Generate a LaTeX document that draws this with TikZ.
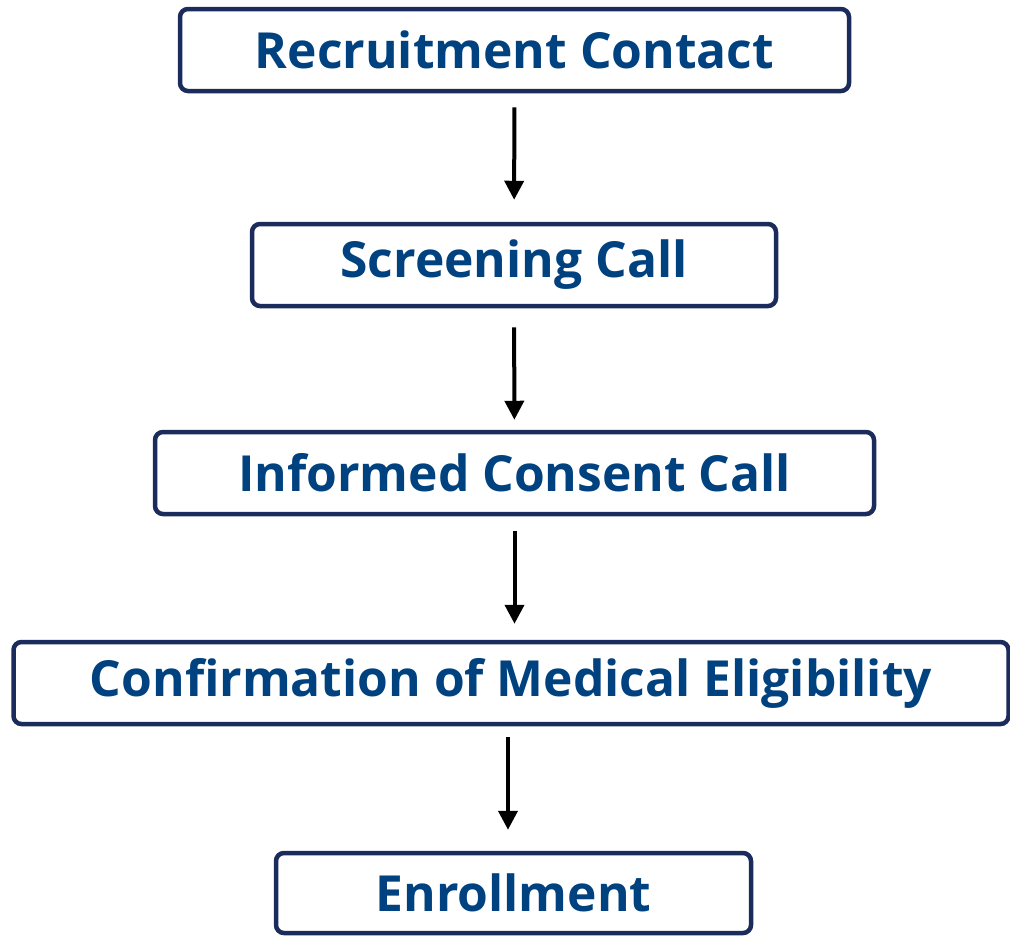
\documentclass[tikz,border=0pt]{standalone}
\usepackage{fontspec}
\setmainfont{Open Sans}
\usepackage{tikz}
\usepackage{xcolor}
\usetikzlibrary{positioning,arrows.meta}
\definecolor{stepblue}{HTML}{00417F}
\definecolor{framenavy}{HTML}{1B2C5C}

\begin{document}
\begin{tikzpicture}[scale=1.0,
    stage/.style={rectangle, rounded corners=0.16cm, draw=framenavy, line width=0.09cm,
      fill=white, inner sep=0pt, minimum height=1.64cm,
      font=\fontsize{28.3}{31}\selectfont\bfseries, text=stepblue},
    flow/.style={-{Triangle[length=0.38cm, width=0.38cm]}, line width=0.08cm}]
      %\draw [dotted] (0,-19) grid (21,0);
      \useasboundingbox (0,0) rectangle (20.2,-18.72);
      \node [stage, minimum width=13.38cm] (rc) at (10.29,  -1.00) {Recruitment Contact};
      \node [stage, minimum width=10.48cm] (sc) at (10.28,  -5.30) {Screening Call};
      \node [stage, minimum width=14.38cm] (ic) at (10.29,  -9.46) {Informed Consent Call};
      \node [stage, minimum width=19.90cm] (cm) at (10.22, -13.66) {Confirmation of Medical Eligibility};
      \node [stage, minimum width=9.50cm, minimum height=1.60cm]
                                          (en) at (10.27, -17.86) {Enrollment};
      \draw [flow, shorten <=0.28cm, shorten >=0.44cm] (rc) -- (sc);
      \draw [flow, shorten <=0.38cm, shorten >=0.20cm] (sc) -- (ic);
      \draw [flow, shorten <=0.30cm, shorten >=0.32cm] (ic.south) -- (ic.south |- cm.north);
      \draw [flow, shorten <=0.22cm, shorten >=0.42cm] ([xshift=-0.06cm]cm.south) -- ([xshift=-0.06cm]cm.south |- en.north);
\end{tikzpicture}
\end{document}
